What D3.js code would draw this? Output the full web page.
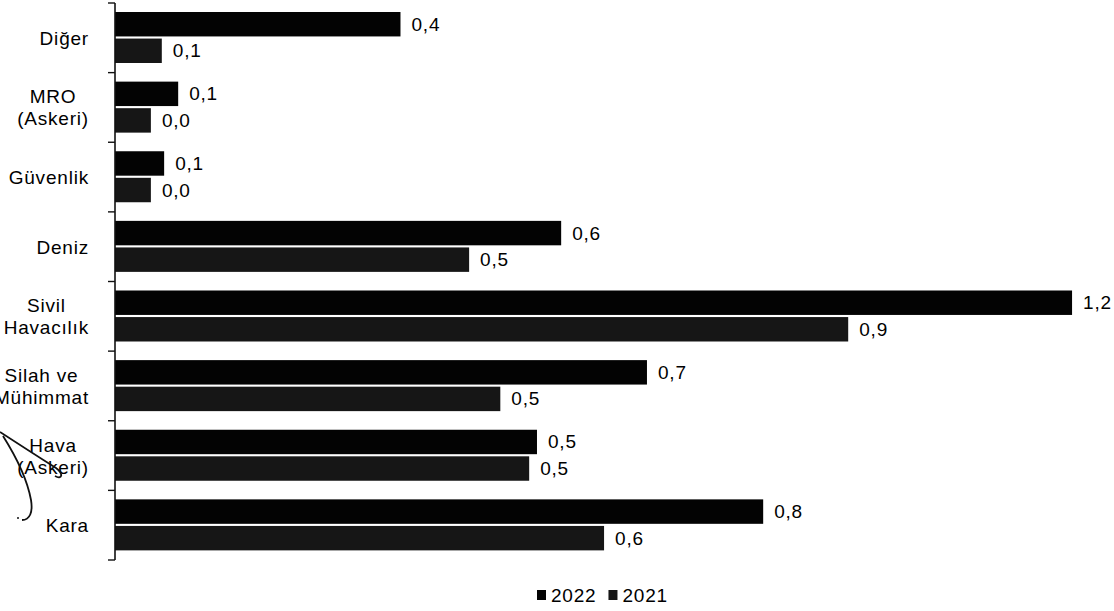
<!DOCTYPE html>
<html>
<head>
<meta charset="utf-8">
<script src="https://cdn.jsdelivr.net/npm/d3@7"></script>
<style>
  html, body { margin:0; padding:0; background:#fff; }
  svg { display:block; font-family:"Liberation Sans", Arial, sans-serif; }
</style>
</head>
<body>
<svg id="chart" width="1114" height="611"></svg>
<script>
// categories top -> bottom, as the scanned Excel chart shows them
const CATEGORIES = ["Diğer","MRO (Askeri)","Güvenlik","Deniz","Sivil Havacılık","Silah ve Mühimmat","Hava (Askeri)","Kara"];
const LABEL_LINES = [["Diğer"],["MRO","(Askeri)"],["Güvenlik"],["Deniz"],["Sivil","Havacılık"],["Silah ve","Mühimmat"],["Hava","(Askeri)"],["Kara"]];
const SERIES = ["2022","2021"];
const V2022 = [0.366, 0.081, 0.063, 0.572, 1.227, 0.682, 0.541, 0.831];
const V2021 = [0.060, 0.046, 0.046, 0.454, 0.940, 0.494, 0.531, 0.627];
const COLORS = {"2022":"#030303", "2021":"#161616"};

const svg = d3.select("#chart");

const x = d3.scaleLinear().domain([0, 1]).range([115, 895]);
const y = d3.scaleBand().domain(CATEGORIES).range([3, 560]).paddingInner(0).paddingOuter(0);
const ys = d3.scaleBand().domain(SERIES).range([9, 60]).paddingInner(0.08);

const fmt = v => v.toFixed(1).replace(".", ",");
const rows = CATEGORIES.map((c,i)=>({cat:c, vals:[{s:"2022", v:V2022[i]}, {s:"2021", v:V2021[i]}]}));

// bars
const gBars = svg.append("g");
const grp = gBars.selectAll("g").data(rows).join("g")
  .attr("transform", d=>`translate(0,${y(d.cat)})`);
grp.selectAll("rect").data(d=>d.vals).join("rect")
  .attr("x", x(0))
  .attr("y", d=>ys(d.s))
  .attr("width", d=>x(d.v)-x(0))
  .attr("height", ys.bandwidth())
  .attr("fill", d=>COLORS[d.s]);
grp.selectAll("text").data(d=>d.vals).join("text")
  .attr("x", d=>x(d.v)+11)
  .attr("y", d=>ys(d.s)+ys.bandwidth()/2)
  .attr("dominant-baseline","central")
  .attr("font-size", 19).attr("letter-spacing", 0.8)
  .attr("fill","#000")
  .text(d=>fmt(d.v));

// category axis: vertical line + outward ticks at band edges
const gAxis = svg.append("g");
gAxis.append("line")
  .attr("x1", x(0)).attr("x2", x(0))
  .attr("y1", y.range()[0]).attr("y2", y.range()[1])
  .attr("stroke","#111").attr("stroke-width",1.6);
const edges = CATEGORIES.map(c=>y(c)).concat([y.range()[1]]);
gAxis.selectAll("line.tick").data(edges).join("line")
  .attr("class","tick")
  .attr("x1", x(0)-7).attr("x2", x(0))
  .attr("y1", d=>d).attr("y2", d=>d)
  .attr("stroke","#111").attr("stroke-width",1.4);

// category labels: box right-aligned at the axis, text centred inside the box
const LABEL_RIGHT = 89;
const lab = gAxis.selectAll("text.cat").data(rows).join("text")
  .attr("class","cat")
  .attr("font-size", 19).attr("letter-spacing", 0.8).attr("fill","#000")
  .attr("dominant-baseline","central");
lab.each(function(d,i){
  const lines = LABEL_LINES[i];
  const t = d3.select(this);
  const cy = y(d.cat) + y.bandwidth()/2;
  const spans = t.selectAll("tspan").data(lines).join("tspan").text(s=>s);
  // measure widest line, then centre every line on that box
  const widths = [];
  spans.each(function(){ widths.push(this.getComputedTextLength()); });
  const boxW = d3.max(widths);
  const cx = LABEL_RIGHT - boxW/2;
  spans.attr("text-anchor","middle")
       .attr("x", cx)
       .attr("y", (s,j)=> cy + (j - (lines.length-1)/2)*22);
});

// legend
const gLeg = svg.append("g").attr("transform","translate(537,595)");
let lx = 0;
SERIES.forEach(s=>{
  gLeg.append("rect").attr("x", lx).attr("y", -5).attr("width", 9).attr("height", 10).attr("fill", COLORS[s]);
  const t = gLeg.append("text").attr("x", lx+14).attr("y", 0)
    .attr("dominant-baseline","central")
    .attr("font-size", 19).attr("letter-spacing", 0.8).attr("fill","#000").text(s);
  lx += 14 + t.node().getComputedTextLength() + 12;
});

// hand-drawn pen mark on the left margin of the scan
svg.append("path")
  .attr("d","M0,432 C20,445 40,458 56,468 C64,474 62,480 55,476 M3,436 C15,455 27,478 31,500 C33,512 30,520 22,520")
  .attr("fill","none").attr("stroke","#111").attr("stroke-width",1.8);
svg.append("circle").attr("cx",18).attr("cy",518).attr("r",1).attr("fill","#111");
</script>
</body>
</html>
